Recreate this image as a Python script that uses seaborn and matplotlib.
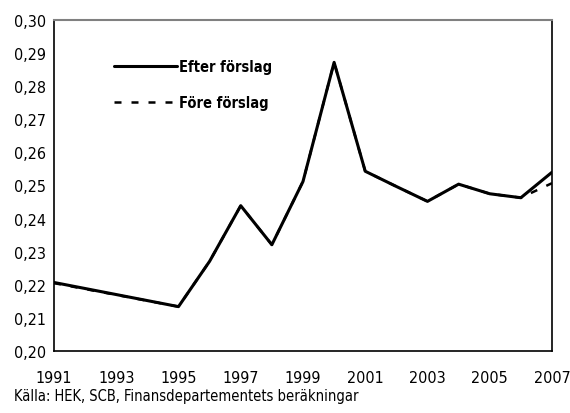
import numpy as np
import pandas as pd
import matplotlib
matplotlib.use('Agg')
import matplotlib.pyplot as plt
import seaborn as sns

years = [1991, 1995, 1996, 1997, 1998, 1999, 2000, 2001, 2002, 2003, 2004, 2005, 2006, 2007]
efter = [0.2207, 0.2134, 0.2271, 0.2439, 0.2321, 0.2512, 0.2872, 0.2543, 0.2497, 0.2452, 0.2504, 0.2475, 0.2463, 0.2540]
fore = [0.2205, 0.2134, 0.2271, 0.2439, 0.2321, 0.2512, 0.2872, 0.2543, 0.2497, 0.2452, 0.2504, 0.2475, 0.2463, 0.2507]
y_ticks = [0.20, 0.21, 0.22, 0.23, 0.24, 0.25, 0.26, 0.27, 0.28, 0.29, 0.30]
x_labels = [1991, 1993, 1995, 1997, 1999, 2001, 2003, 2005, 2007]

sns.set_style('white')
plt.rcParams['font.family'] = ['DejaVu Sans']
plt.rcParams['font.stretch'] = 'condensed'
plt.rcParams['text.color'] = 'black'

df = pd.DataFrame({'year': years, 'Efter förslag': efter, 'Före förslag': fore})

fig = plt.figure(figsize=(5.7, 4.14), dpi=100)
ax = fig.add_axes([0.0947, 0.1498, 0.8737, 0.7995])

sns.lineplot(data=df, x='year', y='Före förslag', ax=ax, color='black', lw=1.8,
             linestyle=(0, (2.8, 4.0)), label='Före förslag')
sns.lineplot(data=df, x='year', y='Efter förslag', ax=ax, color='black', lw=2.2,
             label='Efter förslag')

ax.set_xlim(1991, 2007)
ax.set_ylim(0.20, 0.30)
ax.set_xticks(range(1991, 2008))
ax.set_xticklabels([str(y) if y in x_labels else '' for y in range(1991, 2008)])
ax.set_yticks(y_ticks)
ax.set_yticklabels([f'{v:.2f}'.replace('.', ',') for v in y_ticks])
ax.tick_params(axis='x', direction='inout', length=9, width=1, labelsize=11.5, pad=9, colors='black')
ax.tick_params(axis='y', direction='in', length=5, width=1, labelsize=11.5, pad=6, colors='black')
ax.set_xlabel('')
ax.set_ylabel('')

for s in ['left', 'bottom', 'right']:
    ax.spines[s].set_color('black')
    ax.spines[s].set_linewidth(1.2)
ax.spines['top'].set_color('#808080')
ax.spines['top'].set_linewidth(1.5)

handles, labels = ax.get_legend_handles_labels()
leg = ax.legend(handles[::-1], labels[::-1], loc='upper left', bbox_to_anchor=(0.095, 0.922),
                frameon=False, handlelength=4.3, handletextpad=0.15, labelspacing=1.45,
                prop={'weight': 'bold', 'size': 10.5, 'stretch': 'condensed'})

fig.text(0.025, 0.032, 'Källa: HEK, SCB, Finansdepartementets beräkningar', fontsize=10.5)

fig.savefig('out.png', dpi=100)
